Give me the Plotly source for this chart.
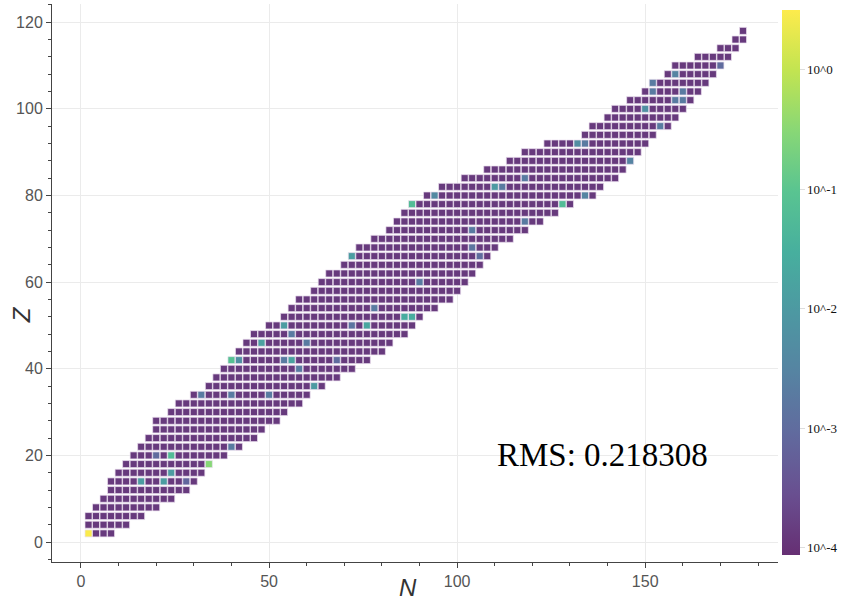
import numpy as np
import plotly.graph_objects as go

# Even-even nuclei: proton number Z and the neutron range N_min..N_max (step 2)
Z_rows = list(range(2, 120, 2))
N_min = [2, 2, 2, 4, 6, 8, 8, 10, 12, 14, 16, 18, 20, 20, 24, 26, 30, 34, 36, 38,
         40, 42, 44, 46, 50, 54, 56, 58, 62, 64, 66, 70, 72, 74, 78, 82, 84, 86, 88, 92,
         96, 102, 108, 114, 118, 124, 134, 136, 140, 142, 146, 150, 152, 156, 158, 164, 170, 174, 176]
N_max = [8, 12, 16, 20, 24, 28, 30, 32, 34, 38, 42, 46, 48, 52, 54, 58, 60, 64, 68, 72,
         76, 80, 82, 86, 88, 90, 94, 98, 100, 102, 104, 106, 108, 110, 114, 118, 122, 126, 130, 136,
         138, 142, 144, 146, 148, 150, 152, 156, 158, 160, 162, 164, 166, 168, 170, 172, 174, 176, 176]

# typical squared deviation of a nucleus
base_value = 1.3e-4

# nuclei with larger deviations
hl_N = [2, 34, 24, 40, 88, 128, 16, 22, 24, 20, 28, 40, 32, 40, 50, 42, 54, 56, 48, 60,
        56, 54, 72, 76, 86, 88, 78, 58, 62, 68, 90, 72, 104, 104, 106, 118, 94, 134, 110, 112,
        118, 146, 132, 134, 154, 150, 158, 160, 152, 160, 152, 158, 170]
hl_Z = [2, 18, 20, 42, 78, 78, 14, 14, 16, 20, 14, 22, 34, 34, 34, 42, 42, 42, 46, 46,
        48, 50, 50, 50, 52, 52, 54, 40, 36, 42, 60, 66, 72, 68, 66, 74, 80, 80, 82, 82,
        84, 88, 92, 92, 96, 100, 102, 102, 104, 104, 106, 108, 110]
hl_val = [3.0, 0.3, 0.06, 0.08, 0.06, 0.06, 0.012, 0.012, 0.012, 0.001, 0.0008, 0.002, 0.002, 0.002, 0.002, 0.006, 0.002, 0.015, 0.015, 0.002,
          0.002, 0.012, 0.0015, 0.02, 0.025, 0.025, 0.002, 0.002, 0.01, 0.001, 0.002, 0.012, 0.002, 0.0015, 0.001, 0.002, 0.004, 0.003, 0.01, 0.002,
          0.002, 0.003, 0.005, 0.002, 0.002, 0.006, 0.002, 0.002, 0.002, 0.002, 0.002, 0.003, 0.001]

rms_text = "RMS: 0.218308"

overrides = {(n, z): v for n, z, v in zip(hl_N, hl_Z, hl_val)}
cell_N, cell_Z, cell_V = [], [], []
for z, lo, hi in zip(Z_rows, N_min, N_max):
    for n in range(lo, hi + 1, 2):
        cell_N.append(n)
        cell_Z.append(z)
        cell_V.append(overrides.get((n, z), base_value))
log_v = np.log10(np.array(cell_V))

# viridis washed toward white (semi-transparent look)
viridis = ["#440154", "#482878", "#3e4989", "#31688e", "#26828e",
           "#1f9e89", "#35b779", "#6ece58", "#b5de2b", "#fde725"]
alpha = 0.82
scale = []
for i, h in enumerate(viridis):
    r, g, b = int(h[1:3], 16), int(h[3:5], 16), int(h[5:7], 16)
    r, g, b = [round(c * alpha + 255 * (1 - alpha)) for c in (r, g, b)]
    scale.append([i / (len(viridis) - 1), f"rgb({r},{g},{b})"])

cb_vals = [-4, -3, -2, -1, 0]
cb_text = ["10^-4", "10^-3", "10^-2", "10^-1", "10^0"]

fig = go.Figure(go.Scatter(
    x=cell_N, y=cell_Z, mode="markers",
    marker=dict(
        symbol="square", size=7, color=log_v, colorscale=scale,
        cmin=-4.06, cmax=0.5,
        line=dict(width=0.8, color="rgba(235,225,240,0.9)"),
        colorbar=dict(
            tickvals=cb_vals, ticktext=cb_text,
            thickness=18, len=0.977, lenmode="fraction",
            x=1.005, xanchor="left", xpad=0, y=0.501, yanchor="middle", ypad=0,
            outlinewidth=0, ticks="outside", ticklen=5, tickcolor="#dddddd",
            tickfont=dict(family="Liberation Serif", size=13, color="#111"),
        ),
    ),
    hoverinfo="skip",
))

axis_common = dict(
    showgrid=True, gridcolor="#ebebeb", gridwidth=1,
    showline=True, linecolor="#444", linewidth=1,
    ticks="outside", ticklen=5, tickcolor="#444",
    tickfont=dict(family="Liberation Sans", size=16, color="#555"),
    zeroline=False, automargin=False,
)

fig.update_xaxes(
    range=[-7.7, 185.3], tickvals=[0, 50, 100, 150],
    minor=dict(dtick=10, tick0=0, ticks="outside", ticklen=3, tickcolor="#444", showgrid=False),
    **axis_common,
)
fig.update_yaxes(
    range=[-4.6, 124.2], tickvals=[0, 20, 40, 60, 80, 100, 120],
    minor=dict(dtick=4, tick0=0, ticks="outside", ticklen=3, tickcolor="#444", showgrid=False),
    **axis_common,
)

# axis titles
title_font = dict(family="Liberation Sans", size=24, color="#333")
fig.add_annotation(x=(410 - 52) / 731, y=-(587 - 562) / 558, xref="paper", yref="paper",
                   text="<i>N</i>", showarrow=False, xanchor="center", yanchor="middle",
                   font=title_font)
fig.add_annotation(x=-(52 - 21) / 731, y=1 - (315 - 4) / 558, xref="paper", yref="paper",
                   text="<i>Z</i>", showarrow=False, xanchor="center", yanchor="middle",
                   textangle=-90, font=title_font)

fig.add_annotation(
    x=110, y=20.2, xref="x", yref="y", text=rms_text, showarrow=False,
    xanchor="left", yanchor="middle",
    font=dict(family="Liberation Serif", size=33, color="#000"),
)

fig.update_layout(
    width=842, height=605,
    margin=dict(l=52, r=59, t=4, b=43),
    paper_bgcolor="white", plot_bgcolor="white",
    showlegend=False,
)

fig.write_html("out.html")
